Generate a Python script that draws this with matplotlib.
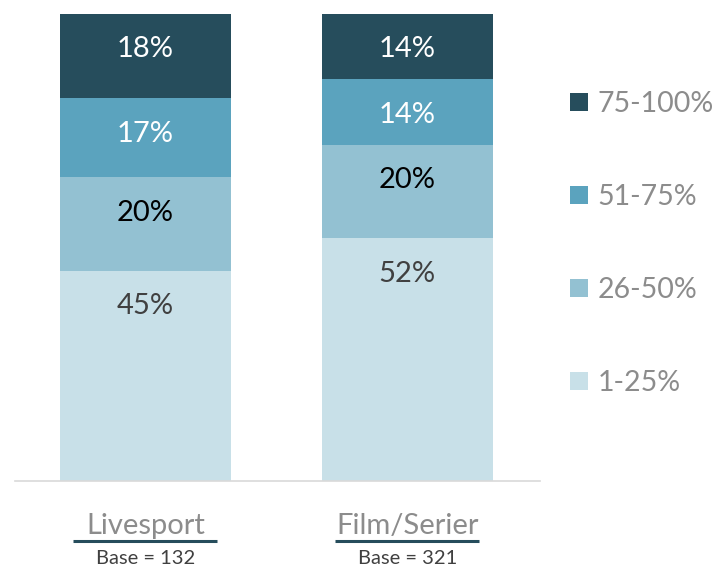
import numpy as np
import matplotlib.pyplot as plt

plt.rcParams['font.family'] = ['Lato', 'DejaVu Sans']

# Data
categories = ['Livesport', 'Film/Serier']
bases = [132, 321]
series = ['1-25%', '26-50%', '51-75%', '75-100%']
values = {
    '1-25%': [45, 52],
    '26-50%': [20, 20],
    '51-75%': [17, 14],
    '75-100%': [18, 14],
}

colors = {
    '1-25%': '#c8e0e8',
    '26-50%': '#93c1d2',
    '51-75%': '#5ba3be',
    '75-100%': '#264d5c',
}
label_colors = {
    '1-25%': '#404040',
    '26-50%': '#000000',
    '51-75%': 'white',
    '75-100%': 'white',
}

fig = plt.figure(figsize=(7.23, 5.67), dpi=100)
ax = fig.add_axes([0.0207, 0.1517, 0.726, 0.8236])

x = np.arange(len(categories))
width = 0.653
bottom = np.zeros(len(categories))
handles = []
for s in series:
    v = np.array(values[s], dtype=float)
    b = ax.bar(x, v, width, bottom=bottom, color=colors[s], label=s)
    handles.append(b)
    for xi, bi, vi in zip(x, bottom, v):
        top = bi + vi
        ax.text(xi, top - 7.6, f'{int(vi)}%', ha='center', va='center',
                fontsize=21, color=label_colors[s])
    bottom += v

ax.set_xlim(-0.498, 1.506)
ax.set_ylim(0, 100)
for sp in ['top', 'left', 'right']:
    ax.spines[sp].set_visible(False)
ax.spines['bottom'].set_color('#d9d9d9')
ax.spines['bottom'].set_linewidth(1.2)
ax.set_xticks([])
ax.set_yticks([])

# Category labels with underline and base
for xi, cat, base in zip(x, categories, bases):
    ax.text(xi, -9.7, cat, ha='center', va='center', fontsize=21,
            color='#8c8c8c', clip_on=False)
    ax.plot([xi - 0.275, xi + 0.275], [-12.9, -12.9], color='#264d5c', lw=2.2,
            clip_on=False, solid_capstyle='butt')
    ax.text(xi, -16.6, f'Base = {base}', ha='center', va='center',
            fontsize=14.5, color='#404040', clip_on=False)

# Legend (reverse order, top = 75-100%)
leg = fig.legend(handles[::-1], series[::-1], loc='center left',
                 bbox_to_anchor=(0.789, 0.5705), frameon=False,
                 borderpad=0, borderaxespad=0,
                 labelspacing=2.35, handlelength=0.6, handleheight=0.6,
                 handletextpad=0.35, labelcolor='#8c8c8c',
                 prop={'size': 20.5})

fig.savefig('out.png', dpi=100)
